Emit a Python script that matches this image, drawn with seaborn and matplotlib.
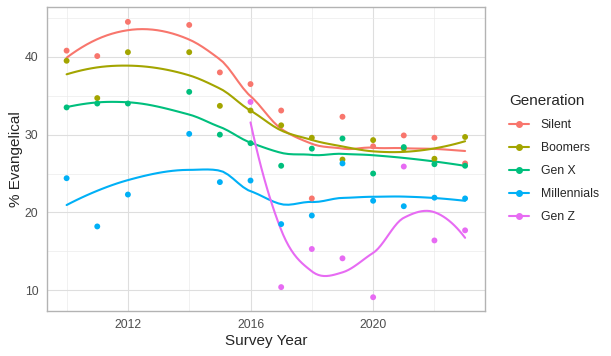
import numpy as np
import pandas as pd
import matplotlib
matplotlib.use('Agg')
import matplotlib.pyplot as plt
import seaborn as sns
from matplotlib.lines import Line2D

# data
years       = [2010, 2011, 2012, 2014, 2015, 2016, 2017, 2018, 2019, 2020, 2021, 2022, 2023]
silent      = [40.8, 40.1, 44.5, 44.1, 38.0, 36.5, 33.1, 21.8, 32.3, 28.5, 29.9, 29.6, 26.3]
boomers     = [39.5, 34.7, 40.6, 40.6, 33.7, 33.1, 31.2, 29.6, 26.8, 29.3, 28.2, 26.9, 29.7]
gen_x       = [33.5, 34.0, 34.0, 35.5, 30.0, 28.9, 26.0, 28.2, 29.5, 25.0, 28.4, 26.2, 26.0]
millennials = [24.4, 18.2, 22.3, 30.1, 23.9, 24.1, 18.5, 19.6, 26.3, 21.5, 20.8, 21.9, 21.8]
genz_years  = [2016, 2017, 2018, 2019, 2020, 2021, 2022, 2023]
gen_z       = [34.2, 10.4, 15.3, 14.1, 9.1, 25.9, 16.4, 17.7]

generations = ['Silent', 'Boomers', 'Gen X', 'Millennials', 'Gen Z']
colors = ['#F8766D', '#A3A500', '#00BF7D', '#00B0F6', '#E76BF3']
palette = dict(zip(generations, colors))


def local_fit(x, y, x0, q):
    # local quadratic, tricube weights -> value and slope at x0
    d = np.abs(x - x0)
    h = np.sort(d)[q - 1]
    w = (1 - np.clip(d / h, 0, 1) ** 3) ** 3
    X = np.column_stack([np.ones_like(x), x - x0, (x - x0) ** 2])
    sw = np.sqrt(w)
    beta = np.linalg.lstsq(X * sw[:, None], y * sw, rcond=None)[0]
    return beta[0], beta[1]


def loess(x, y, xs, span=0.75):
    # roughly R loess(surface='interpolate'): fit at vertices, cubic hermite in between
    x = np.asarray(x, float); y = np.asarray(y, float)
    q = int(round(len(x) * span))
    verts = np.unique(x)
    verts[-1] = verts[-1] + 0.005 * (x.max() - x.min())
    vals = np.array([local_fit(x, y, v, q) for v in verts])
    out = []
    for x0 in xs:
        i = min(np.searchsorted(verts, x0, side='right') - 1, len(verts) - 2)
        a, b = verts[i], verts[i + 1]
        hh = b - a
        t = (x0 - a) / hh
        h00 = 2*t**3 - 3*t**2 + 1
        h10 = t**3 - 2*t**2 + t
        h01 = -2*t**3 + 3*t**2
        h11 = t**3 - t**2
        out.append(h00*vals[i, 0] + h10*hh*vals[i, 1] + h01*vals[i+1, 0] + h11*hh*vals[i+1, 1])
    return np.array(out)


series = {'Silent': (years, silent), 'Boomers': (years, boomers), 'Gen X': (years, gen_x),
          'Millennials': (years, millennials), 'Gen Z': (genz_years, gen_z)}

pts = []
fits = []
for g in generations:
    xx, yy = series[g]
    pts.append(pd.DataFrame({'year': xx, 'pct': yy, 'Generation': g}))
    grid = np.linspace(min(xx), max(xx), 80)
    fits.append(pd.DataFrame({'year': grid, 'pct': loess(xx, yy, grid), 'Generation': g}))
df = pd.concat(pts, ignore_index=True)
smooth = pd.concat(fits, ignore_index=True)

sns.set_style('white')
plt.rcParams['font.family'] = ['Liberation Sans', 'DejaVu Sans']

fig = plt.figure(figsize=(6.11, 3.56), dpi=100)
ax = fig.add_axes([0.0764, 0.1264, 0.7174, 0.8531])

sns.lineplot(data=smooth, x='year', y='pct', hue='Generation', palette=palette, hue_order=generations,
             linewidth=1.5, estimator=None, sort=False, legend=False, ax=ax, zorder=3)
sns.scatterplot(data=df, x='year', y='pct', hue='Generation', palette=palette, hue_order=generations,
                s=18, linewidth=0, legend=False, ax=ax, zorder=4)

ax.set_xlim(2009.35, 2023.65)
ax.set_ylim(7.33, 46.37)
ax.set_xticks([2012, 2016, 2020])
ax.set_xticks([2010, 2014, 2018, 2022], minor=True)
ax.set_yticks([10, 20, 30, 40])
ax.set_yticks([15, 25, 35, 45], minor=True)
ax.grid(which='major', color='#DEDEDE', linewidth=0.8)
ax.grid(which='minor', color='#EBEBEB', linewidth=0.5)
ax.set_axisbelow(True)
for s in ax.spines.values():
    s.set_color('#B3B3B3')
    s.set_linewidth(1.0)
ax.tick_params(which='major', length=3, width=0.8, color='#B3B3B3', labelcolor='#4D4D4D', labelsize=8.8, pad=3)
ax.tick_params(which='minor', length=0)
ax.set_xlabel('Survey Year', fontsize=11, labelpad=2)
ax.set_ylabel('% Evangelical', fontsize=11, labelpad=1)

handles = [Line2D([0], [0], color=c, marker='o', markersize=4, linewidth=1.5) for c in colors]
leg = fig.legend(handles, generations, title='Generation', loc='upper left', bbox_to_anchor=(0.815, 0.766),
                 frameon=False, fontsize=8.8, title_fontsize=11, handlelength=1.6,
                 labelspacing=0.9, handletextpad=1.0)
leg._legend_box.align = 'left'

plt.savefig('out.png', dpi=100)
